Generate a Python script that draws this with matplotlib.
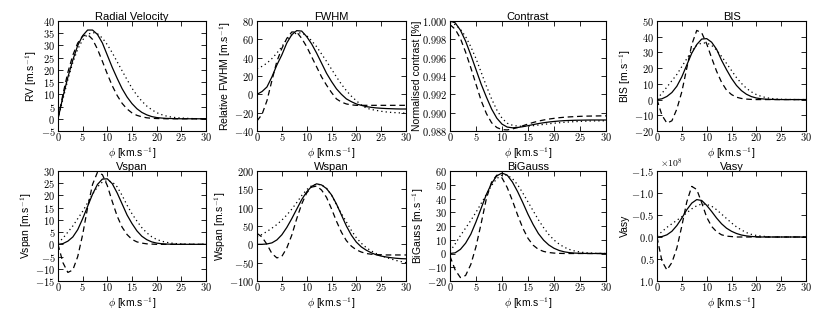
import matplotlib
matplotlib.use("Agg")
import matplotlib.pyplot as plt
from matplotlib.ticker import FuncFormatter, MultipleLocator

plt.rcParams['font.family'] = ['Liberation Sans', 'DejaVu Sans']
plt.rcParams['mathtext.fontset'] = 'cm'

phi = list(range(0, 31))

rv_solid = [0, 9, 17, 24, 30, 34, 36.3, 36.3, 34.5, 31, 26, 21, 16.5, 12.3, 8.9, 6.2, 4.1, 2.6, 1.6, 0.9, 0.5, 0.3, 0.15, 0.1, 0.05, 0, 0, 0, 0, 0, 0]
rv_dashed = [0, 10, 19, 26, 31, 33.8, 34.5, 32.5, 28.5, 23.5, 18.3, 13.5, 9.5, 6.3, 4, 2.4, 1.4, 0.8, 0.4, 0.2, 0.1, 0.05, 0, 0, 0, 0, 0, 0, 0, 0, 0]
rv_dotted = [0, 8, 16, 23, 28.5, 32.3, 34.5, 35.3, 34.8, 33, 30.3, 27, 23.3, 19.6, 16, 12.5, 9.6, 7.2, 5.2, 3.7, 2.5, 1.7, 1.1, 0.7, 0.45, 0.3, 0.2, 0.1, 0.05, 0, 0]

fwhm_solid = [0, 3, 8, 19, 32, 43, 56, 65, 69.5, 69, 63, 55, 45, 34, 23, 14, 6, 0, -5, -8, -10.5, -12, -13.4, -14.2, -14.8, -15.2, -15.5, -15.7, -15.9, -16, -16]
fwhm_dashed = [-29, -22, -7, 15, 36, 50, 61, 68, 68, 61, 52, 41, 30, 19, 10, 2, -5, -8.5, -10.5, -11.5, -12, -12, -12, -12, -12, -12, -12, -12, -12, -12, -12]
fwhm_dotted = [28, 30.5, 34, 39, 45, 52, 60, 64.5, 67, 67, 64, 58.5, 52, 44, 36, 27.5, 19, 11, 4, -2, -7, -11.5, -15, -16.5, -17.5, -18.5, -19.2, -19.7, -20, -20.3, -20.5]

con_solid = [1.0000, 0.9998, 0.9990, 0.9978, 0.9963, 0.9947, 0.9931, 0.9917, 0.9904, 0.9894, 0.98875, 0.98843, 0.98835, 0.98838, 0.98847, 0.98858, 0.98870, 0.98881, 0.98890, 0.98898, 0.98904, 0.98909, 0.98913, 0.98915, 0.98917, 0.98918, 0.98919, 0.98920, 0.98920, 0.98920, 0.98920]
con_dashed = [0.9996, 0.9991, 0.9981, 0.9966, 0.9949, 0.9931, 0.9913, 0.9899, 0.9889, 0.98838, 0.98815, 0.98812, 0.98822, 0.98838, 0.98857, 0.98876, 0.98893, 0.98908, 0.98920, 0.98930, 0.98938, 0.98945, 0.98950, 0.98954, 0.98957, 0.98960, 0.98962, 0.98963, 0.98964, 0.98965, 0.98965]
con_dotted = [0.9998, 0.9996, 0.9991, 0.9983, 0.9972, 0.9959, 0.9944, 0.9929, 0.9915, 0.9903, 0.9894, 0.98885, 0.98863, 0.98853, 0.98851, 0.98853, 0.98858, 0.98865, 0.98872, 0.98879, 0.98885, 0.98890, 0.98895, 0.98899, 0.98902, 0.98905, 0.98907, 0.98909, 0.98910, 0.98911, 0.98912]

bis_solid = [0, 0.5, 2, 4.5, 8.5, 14.5, 22, 29.5, 35, 38.5, 38.8, 36.5, 32, 25, 19, 13.5, 9, 5.7, 3.4, 1.9, 1, 0.5, 0.25, 0.1, 0.05, 0, 0, 0, 0, 0, 0]
bis_dashed = [0, -10, -15, -13.5, -6, 5, 20, 35, 44, 42.5, 35.5, 26.5, 18, 11, 6, 3.2, 1.5, 0.7, 0.3, 0.1, 0, 0, 0, 0, 0, 0, 0, 0, 0, 0, 0]
bis_dotted = [0.5, 4, 8, 12, 16, 21, 26, 31, 34.5, 36, 36, 34.5, 31.5, 27.5, 23, 18.5, 14, 10.3, 7.2, 4.9, 3.2, 2, 1.2, 0.7, 0.4, 0.2, 0.1, 0.05, 0, 0, 0]

vspan_solid = [0, 0.3, 1.3, 3, 6, 10.5, 15.5, 20.5, 24.5, 26.7, 26.8, 24.8, 21, 16.5, 12, 8.5, 5.5, 3.3, 1.9, 1.0, 0.5, 0.25, 0.1, 0.05, 0, 0, 0, 0, 0, 0, 0]
vspan_dashed = [0, -7.5, -11.5, -10.5, -5, 4, 15, 24.5, 29.5, 28.5, 24, 17.5, 11.5, 7, 4, 2, 1, 0.5, 0.2, 0.1, 0, 0, 0, 0, 0, 0, 0, 0, 0, 0, 0]
vspan_dotted = [0.5, 2.5, 5, 7.5, 10.5, 13.5, 17, 20.5, 23.5, 25.5, 26, 25.5, 23.5, 20, 16, 12.5, 9.5, 6.8, 4.7, 3.1, 2, 1.3, 0.8, 0.5, 0.3, 0.15, 0.1, 0, 0, 0, 0]

wspan_solid = [0, 0, 1, 4, 12, 26, 46, 70, 96, 122, 143, 158, 165, 162, 152, 135, 110, 80, 50, 25, 6, -7, -16, -23, -28.5, -32, -34.5, -36.5, -38, -39, -39.5]
wspan_dashed = [30, 20, 0, -25, -37, -33, -10, 25, 70, 110, 140, 156, 159, 148, 128, 97, 63, 33, 10, -5, -15, -21, -25, -27, -28, -28.5, -29, -29, -29, -29, -29]
wspan_dotted = [20, 27, 35, 44, 54, 66, 80, 96, 114, 133, 149, 160, 164, 162, 153, 134, 108, 84, 61, 38, 18, 3, -9, -18, -25, -31, -36, -40, -44, -47, -50]

bigauss_solid = [0, 0.5, 3, 7.5, 14, 23, 33, 43, 51, 56.5, 58.5, 57, 52, 45, 37, 28.5, 21, 14.5, 9.7, 6.2, 3.8, 2.2, 1.2, 0.6, 0.3, 0.15, 0.05, 0, 0, 0, 0]
bigauss_dashed = [-2, -12, -17.5, -16, -8, 5, 22, 40, 52, 57, 55, 48, 38.5, 28, 18.5, 11, 6, 3, 1.5, 0.7, 0.3, 0.1, 0, 0, 0, 0, 0, 0, 0, 0, 0]
bigauss_dotted = [1.5, 7, 13, 18.5, 24, 30, 36.5, 43, 49.5, 54.5, 57, 57, 54.5, 50, 44, 37.5, 31, 24.5, 18.8, 13.8, 9.8, 6.8, 4.5, 2.9, 1.8, 1.1, 0.6, 0.3, 0.15, 0.05, 0]

vasy_solid = [0, -0.01e8, -0.05e8, -0.13e8, -0.26e8, -0.43e8, -0.62e8, -0.77e8, -0.85e8, -0.83e8, -0.72e8, -0.58e8, -0.43e8, -0.30e8, -0.20e8, -0.13e8, -0.08e8, -0.045e8, -0.025e8, -0.012e8, -0.005e8, 0, 0, 0, 0, 0, 0, 0, 0, 0, 0]
vasy_dashed = [0, 0.55e8, 0.75e8, 0.58e8, 0.25e8, -0.25e8, -0.8e8, -1.15e8, -1.08e8, -0.78e8, -0.45e8, -0.24e8, -0.12e8, -0.05e8, -0.02e8, -0.01e8, 0, 0, 0, 0, 0, 0, 0, 0, 0, 0, 0, 0, 0, 0, 0]
vasy_dotted = [-0.03e8, -0.12e8, -0.22e8, -0.3e8, -0.38e8, -0.46e8, -0.55e8, -0.64e8, -0.71e8, -0.75e8, -0.74e8, -0.7e8, -0.62e8, -0.52e8, -0.42e8, -0.32e8, -0.23e8, -0.16e8, -0.1e8, -0.06e8, -0.035e8, -0.02e8, -0.01e8, 0, 0, 0, 0, 0, 0, 0, 0]

titles = ["Radial Velocity", "FWHM", "Contrast", "BIS", "Vspan", "Wspan", "BiGauss", "Vasy"]
ylabels = ["RV [m.s$^{-1}$]", "Relative FWHM [m.s$^{-1}$]", "Normalised contrast [%]", "BIS [m.s$^{-1}$]",
           "Vspan [m.s$^{-1}$]", "Wspan [m.s$^{-1}$]", "BiGauss [m.s$^{-1}$]", "Vasy"]
xlabel = r"$\phi$ [km.s$^{-1}$]"
series = [(rv_solid, rv_dashed, rv_dotted), (fwhm_solid, fwhm_dashed, fwhm_dotted),
          (con_solid, con_dashed, con_dotted), (bis_solid, bis_dashed, bis_dotted),
          (vspan_solid, vspan_dashed, vspan_dotted), (wspan_solid, wspan_dashed, wspan_dotted),
          (bigauss_solid, bigauss_dashed, bigauss_dotted), (vasy_solid, vasy_dashed, vasy_dotted)]
ylims = [(-5, 40), (-40, 80), (0.988, 1.000), (-20, 50), (-15, 30), (-100, 200), (-20, 60), (1.0e8, -1.5e8)]
ysteps = [5, 20, 0.002, 10, 5, 50, 10, 0.5e8]

W, H = 830, 312
fig = plt.figure(figsize=(W / 100, H / 100), dpi=100)
cols = [(58, 206), (257, 406), (450, 606), (657, 806)]
rows = [(21, 131), (171, 281)]

def fmt_plain(v, p):
    return f"${v:g}$"

def fmt_con(v, p):
    return f"${v:.3f}$"

def fmt_vasy(v, p):
    val = v / 1e8
    if abs(val) < 1e-9:
        val = 0.0
    return f"${val:.1f}$"

for i in range(8):
    r, c = divmod(i, 4)
    x0, x1 = cols[c]
    t0, b0 = rows[r]
    ax = fig.add_axes([x0 / W, 1 - b0 / H, (x1 - x0) / W, (b0 - t0) / H])
    s, d, o = series[i]
    ax.plot(phi, s, color='black', lw=0.9, ls='-')
    ax.plot(phi, d, color='black', lw=0.9, ls=(0, (4.5, 3)))
    ax.plot(phi, o, color='black', lw=0.9, ls=(0, (1, 2.5)))
    ax.set_xlim(0, 30)
    ax.set_ylim(*ylims[i])
    ax.xaxis.set_major_locator(MultipleLocator(5))
    ax.yaxis.set_major_locator(MultipleLocator(ysteps[i]))
    ax.xaxis.set_major_formatter(FuncFormatter(fmt_plain))
    if i == 2:
        ax.yaxis.set_major_formatter(FuncFormatter(fmt_con))
    elif i == 7:
        ax.yaxis.set_major_formatter(FuncFormatter(fmt_vasy))
        ax.text(0.02, 1.005, r"$\times10^{8}$", transform=ax.transAxes, fontsize=7, ha='left', va='bottom')
    else:
        ax.yaxis.set_major_formatter(FuncFormatter(fmt_plain))
    ax.tick_params(direction='in', top=True, right=True, length=3.5, width=0.6, labelsize=7.5)
    ax.tick_params(axis='x', pad=0)
    ax.tick_params(axis='y', pad=2)
    for sp in ax.spines.values():
        sp.set_linewidth(0.8)
    ax.set_title(titles[i], fontsize=8, pad=0.5)
    ax.set_ylabel(ylabels[i], fontsize=7.5, labelpad=1 if i != 2 else 0)
    ax.set_xlabel(xlabel, fontsize=7.5, labelpad=1.5)

fig.savefig("out.png", dpi=100)
